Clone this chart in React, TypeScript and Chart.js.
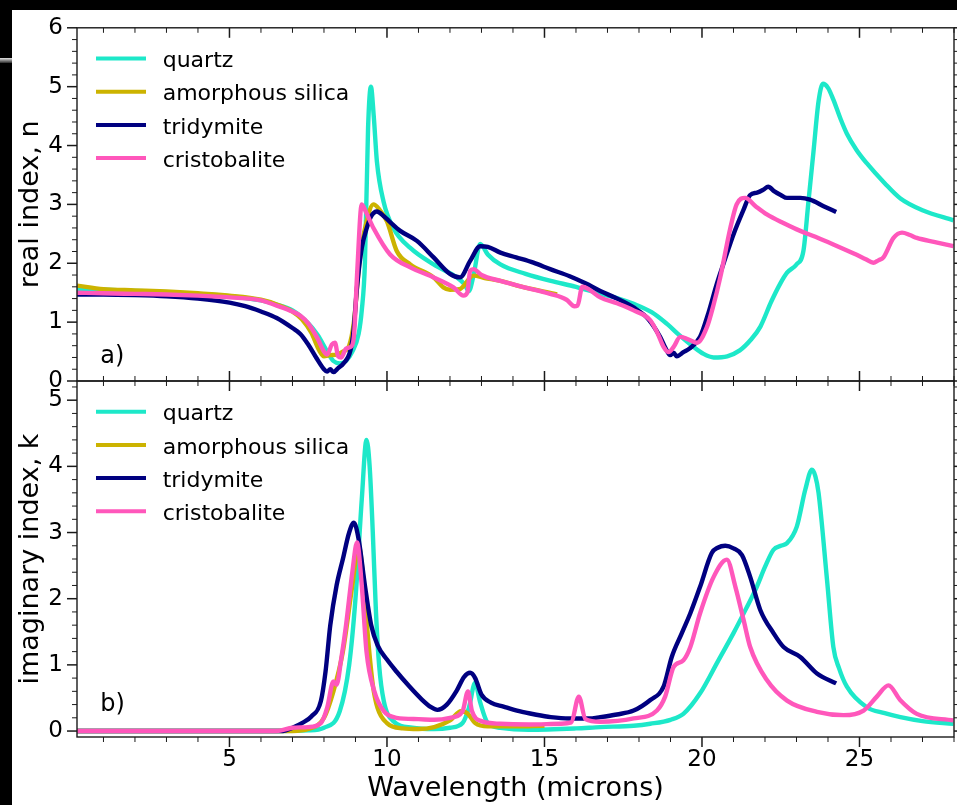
import { useEffect, useRef } from "react";
import { Chart, registerables } from "chart.js";

Chart.register(...registerables);

const FONT = "'DejaVu Sans', 'Liberation Sans', sans-serif";

// ---------- axis settings ----------
const X_MIN = 0.16;
const X_MAX = 28;
const xMajorTicks = [5, 10, 15, 20, 25];
const nTicks = [0, 1, 2, 3, 4, 5, 6];
const kTicks = [0, 1, 2, 3, 4, 5];

const seriesLabels = ["quartz", "amorphous silica", "tridymite", "cristobalite"];
const seriesColors = ["#1de8c9", "#ccb300", "#000080", "#ff57bb"];

// ---------- real index n ----------
const quartzNX = [0.16, 1, 2, 3, 4, 5, 6, 6.5, 7, 7.5, 7.8, 8.1, 8.3, 8.5, 8.7, 8.9, 9.1, 9.2, 9.3, 9.4, 9.49, 9.58, 9.68, 9.89, 10.2, 10.74, 11.48, 12.22, 12.45, 12.6, 12.75, 12.96, 13.2, 13.6, 14.4, 15.2, 16.0, 16.77, 17.3, 17.83, 18.4, 18.89, 19.3, 19.73, 20.05, 20.37, 20.8, 21.2, 21.55, 21.85, 22.2, 22.48, 22.7, 23.0, 23.22, 23.38, 23.54, 23.7, 23.84, 24.0, 24.17, 24.4, 24.6, 24.9, 25.23, 25.8, 26.3, 27.0, 27.98];
const quartzN = [1.56, 1.55, 1.53, 1.51, 1.48, 1.44, 1.37, 1.3, 1.2, 0.98, 0.78, 0.5, 0.34, 0.3, 0.34, 0.5, 0.8, 1.2, 2.0, 4.3, 5.0, 4.5, 3.73, 3.05, 2.6, 2.26, 1.98, 1.76, 1.65, 1.53, 1.8, 2.33, 2.15, 1.98, 1.82, 1.7, 1.6, 1.48, 1.41, 1.31, 1.17, 0.97, 0.77, 0.58, 0.46, 0.4, 0.42, 0.52, 0.7, 0.92, 1.35, 1.65, 1.84, 1.98, 2.21, 3.05, 3.9, 4.75, 5.05, 4.98, 4.78, 4.45, 4.2, 3.93, 3.7, 3.36, 3.1, 2.9, 2.73];

const amorphNX = [0.16, 1, 2, 3, 4, 5, 6, 6.5, 7, 7.3, 7.6, 7.85, 8.0, 8.2, 8.4, 8.6, 8.8, 8.95, 9.13, 9.35, 9.57, 9.75, 10.0, 10.31, 10.74, 11.48, 11.79, 12.0, 12.3, 12.75, 13.1, 13.6, 14.3, 15.07, 15.4];
const amorphN = [1.62, 1.56, 1.54, 1.52, 1.49, 1.45, 1.38, 1.3, 1.18, 1.05, 0.82, 0.52, 0.42, 0.44, 0.45, 0.5, 0.6, 1.0, 2.04, 2.7, 3.0, 2.92, 2.71, 2.21, 1.98, 1.76, 1.59, 1.55, 1.56, 1.79, 1.75, 1.7, 1.6, 1.51, 1.47];

const tridyNX = [0.16, 1, 2, 3, 4, 5, 5.5, 6, 6.5, 7, 7.25, 7.5, 7.75, 8.0, 8.1, 8.2, 8.3, 8.45, 8.62, 8.84, 8.94, 9.05, 9.2, 9.36, 9.5, 9.68, 9.9, 10.1, 10.42, 10.95, 11.48, 12.0, 12.32, 12.64, 12.96, 13.2, 13.6, 14.1, 14.65, 15.18, 15.8, 16.3, 16.77, 17.3, 17.83, 18.3, 18.67, 18.85, 18.99, 19.1, 19.2, 19.41, 19.6, 19.94, 20.2, 20.47, 20.75, 21.0, 21.32, 21.53, 21.75, 21.95, 22.1, 22.3, 22.5, 22.7, 23.12, 23.43, 23.86, 24.26];
const tridyN = [1.47, 1.47, 1.46, 1.44, 1.4, 1.33, 1.27, 1.18, 1.07, 0.9, 0.8, 0.62, 0.4, 0.2, 0.16, 0.2, 0.15, 0.22, 0.3, 0.52, 0.86, 1.6, 2.26, 2.6, 2.8, 2.88, 2.8, 2.7, 2.55, 2.38, 2.1, 1.82, 1.76, 2.04, 2.29, 2.28, 2.18, 2.1, 2.01, 1.9, 1.78, 1.66, 1.53, 1.4, 1.25, 1.05, 0.75, 0.55, 0.44, 0.48, 0.42, 0.49, 0.55, 0.75, 1.15, 1.65, 2.1, 2.49, 2.91, 3.16, 3.2, 3.25, 3.3, 3.22, 3.16, 3.11, 3.11, 3.08, 2.97, 2.87];

const cristNX = [0.16, 1, 2, 3, 4, 5, 6, 6.5, 7, 7.25, 7.5, 7.8, 8.0, 8.1, 8.25, 8.35, 8.45, 8.55, 8.7, 8.85, 8.95, 9.05, 9.2, 9.35, 9.57, 10.1, 10.74, 11.48, 12.11, 12.43, 12.55, 12.64, 12.75, 13.0, 13.6, 14.3, 15.18, 15.7, 15.95, 16.05, 16.2, 16.4, 16.77, 17.3, 17.83, 18.36, 18.6, 18.78, 18.94, 19.1, 19.31, 19.5, 19.63, 19.84, 20.16, 20.37, 20.58, 20.9, 21.1, 21.37, 21.7, 22.06, 22.6, 23.12, 23.6, 24.17, 24.8, 25.2, 25.44, 25.6, 25.76, 26.08, 26.35, 26.6, 26.82, 27.4, 27.98];
const cristN = [1.5, 1.49, 1.48, 1.47, 1.45, 1.42, 1.37, 1.28, 1.18, 1.11, 0.98, 0.72, 0.5, 0.45, 0.62, 0.65, 0.42, 0.4, 0.55, 0.58, 0.75, 1.8, 3.0, 2.85, 2.6, 2.15, 1.93, 1.76, 1.59, 1.45, 1.5, 1.87, 1.9, 1.8, 1.7, 1.6, 1.48, 1.38, 1.27, 1.28, 1.6, 1.56, 1.42, 1.32, 1.2, 1.03, 0.8, 0.58, 0.49, 0.58, 0.75, 0.72, 0.69, 0.65, 0.92, 1.3, 1.76, 2.6, 3.0, 3.11, 2.97, 2.83, 2.68, 2.55, 2.45, 2.32, 2.17, 2.07, 2.01, 2.05, 2.1, 2.43, 2.52, 2.48, 2.43, 2.36, 2.29];

// ---------- imaginary index k ----------
const quartzKX = [0.16, 6.5, 7.5, 8.0, 8.5, 8.8, 9.0, 9.2, 9.35, 9.45, 9.55, 9.65, 9.75, 9.9, 10.2, 10.8, 11.5, 12.0, 12.4, 12.6, 12.8, 12.95, 13.2, 13.6, 14.5, 16.0, 16.77, 17.83, 18.36, 19.0, 19.41, 19.94, 20.5, 21.0, 21.4, 21.74, 22.0, 22.27, 22.5, 22.7, 23.01, 23.28, 23.49, 23.6, 23.7, 23.97, 24.17, 24.35, 24.6, 25.23, 25.8, 26.3, 27.0, 27.98];
const quartzK = [0, 0, 0.01, 0.05, 0.3, 1.0, 2.0, 3.5, 4.4, 4.0, 3.0, 1.8, 1.0, 0.45, 0.15, 0.05, 0.03, 0.05, 0.12, 0.35, 0.73, 0.45, 0.12, 0.05, 0.02, 0.04, 0.06, 0.08, 0.11, 0.17, 0.26, 0.57, 1.05, 1.48, 1.85, 2.18, 2.48, 2.74, 2.8, 2.84, 3.09, 3.65, 3.95, 3.85, 3.6, 2.28, 1.27, 0.95, 0.67, 0.36, 0.27, 0.21, 0.15, 0.11];

const amorphKX = [0.16, 7.0, 7.5, 8.0, 8.3, 8.6, 8.9, 9.1, 9.25, 9.4, 9.55, 9.7, 10.0, 10.5, 11.0, 11.5, 12.0, 12.35, 12.55, 12.8, 13.2, 14.0, 15.0];
const amorphK = [0, 0, 0.03, 0.2, 0.6, 1.2, 2.2, 2.8, 2.3, 1.4, 0.7, 0.35, 0.12, 0.04, 0.03, 0.06, 0.16, 0.3, 0.27, 0.12, 0.07, 0.07, 0.08];

const tridyKX = [0.16, 6.7, 7.0, 7.3, 7.6, 7.9, 8.05, 8.2, 8.4, 8.6, 8.8, 8.95, 9.1, 9.3, 9.5, 9.7, 10.0, 10.3, 10.7, 11.1, 11.4, 11.6, 11.9, 12.2, 12.45, 12.64, 12.8, 13.0, 13.3, 13.7, 14.2, 14.7, 15.2, 15.8, 16.4, 16.77, 17.3, 17.83, 18.36, 18.78, 19.04, 19.36, 19.63, 19.94, 20.31, 20.5, 20.74, 21.0, 21.27, 21.53, 21.85, 22.27, 22.59, 23.12, 23.65, 24.26];
const tridyK = [0, 0, 0.05, 0.12, 0.22, 0.45, 0.9, 1.6, 2.2, 2.6, 3.0, 3.15, 2.9, 2.2, 1.6, 1.3, 1.08, 0.9, 0.68, 0.48, 0.36, 0.32, 0.4, 0.6, 0.82, 0.88, 0.8, 0.55, 0.43, 0.37, 0.3, 0.25, 0.21, 0.19, 0.19, 0.21, 0.25, 0.31, 0.47, 0.67, 1.12, 1.48, 1.78, 2.18, 2.69, 2.77, 2.8, 2.76, 2.66, 2.33, 1.83, 1.48, 1.27, 1.12, 0.87, 0.72];

const cristKX = [0.16, 6.5, 7.0, 7.5, 7.9, 8.1, 8.3, 8.4, 8.55, 8.7, 8.9, 9.05, 9.2, 9.35, 9.6, 9.9, 10.3, 11.0, 11.5, 12.0, 12.4, 12.57, 12.7, 13.0, 13.6, 14.5, 15.5, 15.85, 16.09, 16.3, 16.77, 17.83, 18.57, 18.83, 19.1, 19.41, 19.63, 19.94, 20.37, 20.79, 21.06, 21.32, 21.53, 22.06, 22.7, 23.65, 24.49, 25.13, 25.55, 25.92, 26.29, 26.82, 27.98];
const cristK = [0, 0, 0.05, 0.06, 0.12, 0.35, 0.75, 0.7, 1.1, 1.6, 2.4, 2.85, 2.2, 1.2, 0.6, 0.3, 0.2, 0.18, 0.17, 0.2, 0.3, 0.6, 0.3, 0.15, 0.11, 0.1, 0.11, 0.13, 0.52, 0.18, 0.14, 0.19, 0.31, 0.52, 0.97, 1.07, 1.27, 1.78, 2.33, 2.59, 2.18, 1.68, 1.27, 0.77, 0.46, 0.29, 0.24, 0.31, 0.52, 0.69, 0.47, 0.26, 0.16];

const toPts = (xs: number[], ys: number[]) => xs.map((x, i) => ({ x, y: ys[i] }));

function makeDatasets(sets: [number[], number[]][]) {
  return sets.map(([xs, ys], i) => ({
    label: seriesLabels[i],
    data: toPts(xs, ys),
    borderColor: seriesColors[i],
    backgroundColor: seriesColors[i],
    borderWidth: 4.4,
    pointRadius: 0,
    fill: false,
    cubicInterpolationMode: "monotone" as const,
    order: 3 - i,
  }));
}

const line = (ctx: CanvasRenderingContext2D, x1: number, y1: number, x2: number, y2: number) => {
  ctx.beginPath();
  ctx.moveTo(x1, y1);
  ctx.lineTo(x2, y2);
  ctx.stroke();
};

const decorPlugin = {
  id: "decor",
  afterDraw(chart: any, _args: any, opts: any) {
    const { ctx, chartArea } = chart;
    const { left, right, top, bottom } = chartArea;
    const xs = chart.scales.x;
    const ys = chart.scales.y;
    ctx.save();
    ctx.strokeStyle = "#1a1a1a";
    ctx.lineWidth = 1.4;
    ctx.strokeRect(left, top, right - left, bottom - top);

    // y ticks (outward, both sides)
    const yMaj: number[] = opts.yMajor;
    const drawY = (v: number, len: number) => {
      const py = ys.getPixelForValue(v);
      line(ctx, left - len, py, left, py);
      line(ctx, right, py, right + len, py);
    };
    ctx.lineWidth = 1.5;
    yMaj.forEach((v) => drawY(v, 10));
    ctx.lineWidth = 1;
    for (let i = Math.ceil(ys.min * 5); i <= Math.floor(ys.max * 5); i++) {
      if (i % 5 === 0) continue;
      drawY(i / 5, 5);
    }
    // x ticks
    const drawX = (v: number, len: number) => {
      const px = xs.getPixelForValue(v);
      line(ctx, px, top, px, top + len);
      if (opts.bottomOut) line(ctx, px, bottom, px, bottom + len);
      else line(ctx, px, bottom, px, bottom - len);
    };
    ctx.lineWidth = 1.5;
    xMajorTicks.forEach((v) => drawX(v, 10));
    ctx.lineWidth = 1;
    for (let i = Math.ceil(xs.min); i <= Math.floor(xs.max); i++) {
      if (i % 5 === 0) continue;
      drawX(i, 5);
    }

    // legend
    chart.data.datasets.forEach((ds: any, i: number) => {
      const y = top + 30.7 + i * 33.2;
      ctx.strokeStyle = ds.borderColor;
      ctx.lineWidth = 4;
      line(ctx, 96, y, 146, y);
      ctx.fillStyle = "#000";
      ctx.font = `22px ${FONT}`;
      ctx.textAlign = "left";
      ctx.textBaseline = "alphabetic";
      ctx.fillText(ds.label, 162.7, y + 8.6);
    });

    // panel label
    ctx.fillStyle = "#000";
    ctx.font = `24px ${FONT}`;
    ctx.textAlign = "left";
    ctx.textBaseline = "alphabetic";
    ctx.fillText(opts.panelLabel, xs.getPixelForValue(0.9), ys.getPixelForValue(0.3));
    ctx.restore();
  },
};

function App() {
  const topRef = useRef<HTMLCanvasElement>(null);
  const botRef = useRef<HTMLCanvasElement>(null);

  useEffect(() => {
    const tickFont = { family: FONT, size: 23 };
    const titleFont = { family: FONT, size: 27 };
    const top = new Chart(topRef.current!, {
      type: "line",
      data: {
        datasets: makeDatasets([
          [quartzNX, quartzN],
          [amorphNX, amorphN],
          [tridyNX, tridyN],
          [cristNX, cristN],
        ]) as any,
      },
      options: {
        animation: false,
        responsive: false,
        events: [],
        layout: { padding: { left: 0, top: 25, right: 3, bottom: 424 } },
        plugins: {
          legend: { display: false },
          tooltip: { enabled: false },
          decor: { yMajor: nTicks, bottomOut: false, panelLabel: "a)" },
        } as any,
        scales: {
          x: { type: "linear", min: X_MIN, max: X_MAX, display: false },
          y: {
            type: "linear",
            min: 0,
            max: 6,
            afterBuildTicks: (s: any) => {
              s.ticks = nTicks.map((v) => ({ value: v }));
            },
            afterFit: (s: any) => {
              s.width = 77;
            },
            grid: { display: false, drawTicks: false },
            border: { display: false },
            ticks: { font: tickFont, color: "#000", padding: 14 },
            title: {
              display: true,
              text: "real index, n",
              font: titleFont,
              color: "#000",
              padding: { top: 14.8, bottom: 0 },
            },
          },
        },
      },
      plugins: [decorPlugin],
    });

    const bot = new Chart(botRef.current!, {
      type: "line",
      data: {
        datasets: makeDatasets([
          [quartzKX, quartzK],
          [amorphKX, amorphK],
          [tridyKX, tridyK],
          [cristKX, cristK],
        ]) as any,
      },
      options: {
        animation: false,
        responsive: false,
        events: [],
        layout: { padding: { left: 0, top: 381, right: 3, bottom: 0 } },
        plugins: {
          legend: { display: false },
          tooltip: { enabled: false },
          decor: { yMajor: kTicks, bottomOut: true, panelLabel: "b)" },
        } as any,
        scales: {
          x: {
            type: "linear",
            min: X_MIN,
            max: X_MAX,
            afterBuildTicks: (s: any) => {
              s.ticks = xMajorTicks.map((v) => ({ value: v }));
            },
            afterFit: (s: any) => {
              s.height = 68;
            },
            grid: { display: false, drawTicks: false },
            border: { display: false },
            ticks: { font: tickFont, color: "#000", padding: 9, maxRotation: 0, autoSkip: false },
            title: {
              display: true,
              text: "Wavelength (microns)",
              font: titleFont,
              color: "#000",
              padding: { top: 0, bottom: 0 },
            },
          },
          y: {
            type: "linear",
            min: -0.09,
            max: 5.29,
            afterBuildTicks: (s: any) => {
              s.ticks = kTicks.map((v) => ({ value: v }));
            },
            afterFit: (s: any) => {
              s.width = 77;
            },
            grid: { display: false, drawTicks: false },
            border: { display: false },
            ticks: { font: tickFont, color: "#000", padding: 14 },
            title: {
              display: true,
              text: "imaginary index, k",
              font: titleFont,
              color: "#000",
              padding: { top: 14.8, bottom: 0 },
            },
          },
        },
      },
      plugins: [decorPlugin],
    });

    return () => {
      top.destroy();
      bot.destroy();
    };
  }, []);

  const abs: React.CSSProperties = { position: "absolute", left: 0, top: 0 };
  return (
    <div style={{ ...abs, width: 957, height: 805, background: "#000", overflow: "hidden" }}>
      <div style={{ position: "absolute", left: 12, top: 10, width: 945, height: 795, background: "#fff" }} />
      <div
        style={{
          position: "absolute",
          left: 0,
          top: 58,
          width: 12,
          height: 5,
          background: "linear-gradient(#e4e4e4, #2a2a2a)",
        }}
      />
      <canvas ref={botRef} width={957} height={805} style={abs} />
      <canvas ref={topRef} width={957} height={805} style={abs} />
    </div>
  );
}

export default App;
